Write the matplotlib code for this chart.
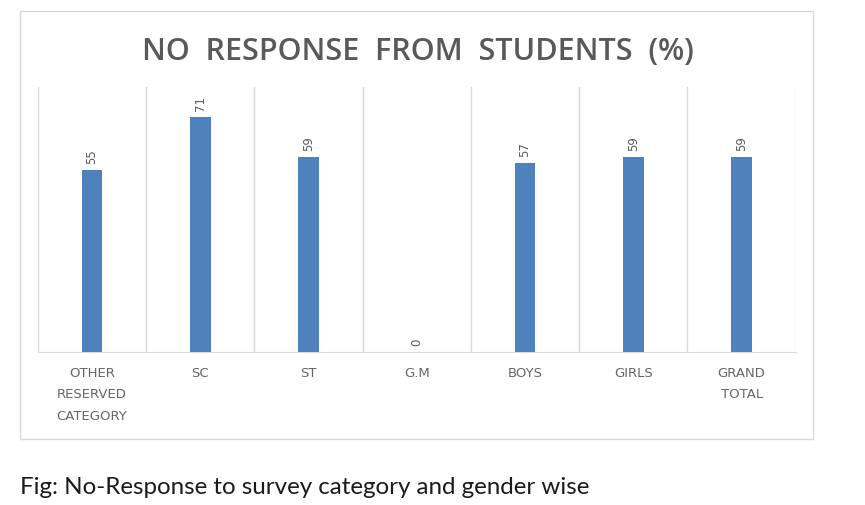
import matplotlib
matplotlib.use("Agg")
from matplotlib import pyplot as plt
from matplotlib.patches import Rectangle

# Chart data
categories = ["OTHER\nRESERVED\nCATEGORY", "SC", "ST", "G.M", "BOYS", "GIRLS", "GRAND\nTOTAL"]
no_response = [55, 71, 59, 0, 57, 59, 59]

bar_color = "#4f81bd"
text_gray = "#595959"
grid_gray = "#d9d9d9"

fig = plt.figure(figsize=(8.65, 5.06), dpi=100)

# Light frame round the chart area
frame = Rectangle((0.0231, 0.1304), 0.9168, 0.8458, transform=fig.transFigure,
                  facecolor="none", edgecolor="#d9d9d9", linewidth=1, zorder=-1)
fig.patches.append(frame)

ax = fig.add_axes([0.0439, 0.3024, 0.876, 0.5237])
ax.set_facecolor("none")

x = range(len(categories))
ax.bar(x, no_response, width=0.19, color=bar_color, zorder=3)

# Data labels, rotated
for xi, v in zip(x, no_response):
    ax.annotate(str(v), (xi, v), xytext=(0, 5), textcoords="offset points",
                rotation=90, ha="center", va="bottom", fontsize=8.5, color=text_gray)

# Vertical separators between categories
for b in range(len(categories) + 1):
    ax.axvline(b - 0.5, color=grid_gray, linewidth=1, zorder=1)

ax.set_xlim(-0.5, len(categories) - 0.5)
ax.set_ylim(0, 80)
ax.set_yticks([])
ax.set_xticks(list(x))
ax.set_xticklabels(categories, fontsize=9.5, color="#666666", linespacing=1.85,
                   family="DejaVu Sans")
ax.tick_params(axis="x", length=0, pad=10)

for side in ["top", "left", "right"]:
    ax.spines[side].set_visible(False)
ax.spines["bottom"].set_color(grid_gray)

fig.text(0.483, 0.897, "NO  RESPONSE  FROM  STUDENTS  (%)", ha="center", va="center",
         fontsize=22, fontweight="semibold", color=text_gray, family="Open Sans")

fig.text(0.023, 0.037, "Fig: No-Response to survey category and gender wise",
         ha="left", va="center", fontsize=17.4, color="#1a1a1a", family="Lato")

fig.savefig("out.png", dpi=100)
